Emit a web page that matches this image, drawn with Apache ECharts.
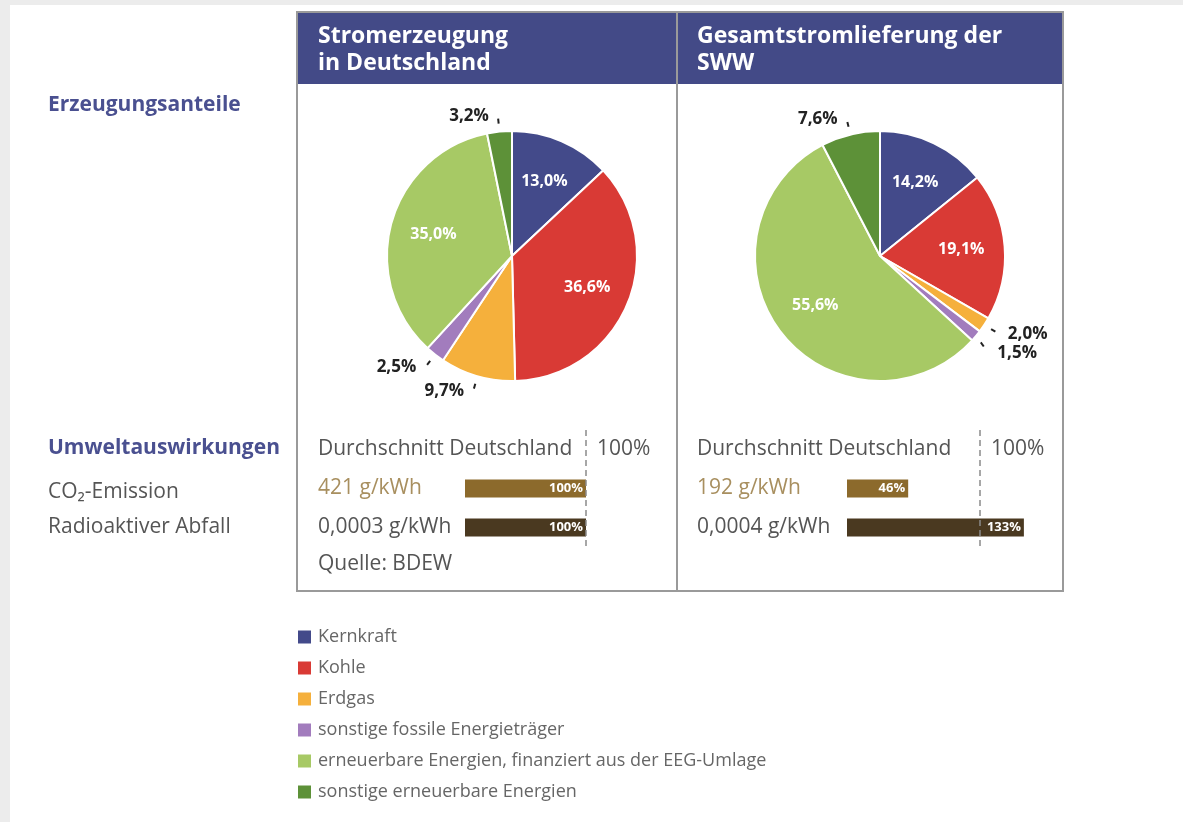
<!DOCTYPE html>
<html><head><meta charset="utf-8">
<script src="https://cdn.jsdelivr.net/npm/echarts@6/dist/echarts.min.js"></script>
<style>html,body{margin:0;padding:0;background:#fff}#c{width:1183px;height:822px}</style>
</head><body><div id="c"></div>
<script>
// ---------- data ----------
const categories = ['Kernkraft', 'Kohle', 'Erdgas', 'sonstige fossile Energieträger',
  'erneuerbare Energien, finanziert aus der EEG-Umlage', 'sonstige erneuerbare Energien'];
const sliceColors = ['#434a8a', '#d93a35', '#f5b03c', '#a27cbd', '#a7c965', '#5d9138'];
const shareDeutschland = [13.0, 36.6, 9.7, 2.5, 35.0, 3.2];
const shareSWW = [14.2, 19.1, 2.0, 1.5, 55.6, 7.6];

const rowLabelsDE = ['Durchschnitt Deutschland', '421 g/kWh', '0,0003 g/kWh'];
const rowLabelsSWW = ['Durchschnitt Deutschland', '192 g/kWh', '0,0004 g/kWh'];
const impactPctDE = [100, 100, 100];   // reference, CO2, radioactive waste
const impactPctSWW = [100, 46, 133];
const barColors = ['rgba(0,0,0,0)', '#8c6a2c', '#4a3920'];

const headerDE = 'Stromerzeugung\nin Deutschland';
const headerSWW = 'Gesamtstromlieferung der\nSWW';
const sideLabels = ['Erzeugungsanteile', 'Umweltauswirkungen', 'CO₂-Emission', 'Radioaktiver Abfall'];
const sourceText = 'Quelle: BDEW';

// ---------- helpers ----------
const FONT = "'Open Sans', 'Noto Sans', sans-serif";
const fmtPct = v => v.toFixed(1).replace('.', ',') + '%';
const R = 125;

function pieSeries(values, center) {
  return [{
    type: 'pie', center: center, radius: [0, R], startAngle: 90, silent: true,
    label: { show: false }, labelLine: { show: false },
    itemStyle: { borderColor: '#fff', borderWidth: 2 },
    data: values.map((v, i) => ({ name: categories[i], value: v, itemStyle: { color: sliceColors[i] } }))
  }, {
    type: 'pie', center: center, radius: [32, R], startAngle: 90, silent: true, z: 5,
    itemStyle: { color: 'rgba(0,0,0,0)', borderWidth: 0 },
    data: values.map((v, i) => {
      const outside = v < 10;
      return {
        name: categories[i], value: v,
        label: outside ? {
          show: true, position: 'outside', formatter: p => fmtPct(p.value),
          color: '#222', fontWeight: 'bold', fontSize: 17, fontFamily: FONT, distance: 2
        } : {
          show: true, position: 'inside', formatter: p => fmtPct(p.value),
          color: '#fff', fontWeight: 'bold', fontSize: 16, fontFamily: FONT
        },
        labelLine: {
          show: outside, length: 16, length2: 4,
          lineStyle: { color: '#222', width: 2, type: [0, 8, 5, 100] }
        }
      };
    })
  }];
}

function barParts(gridIndex, labels, values, max) {
  return {
    xAxis: { gridIndex, type: 'value', min: 0, max: max, show: false },
    yAxis: {
      gridIndex, type: 'category', inverse: true, data: labels,
      axisLine: { show: false }, axisTick: { show: false }, splitLine: { show: false },
      axisLabel: {
        align: 'left', margin: gridIndex === 0 ? 147 : 150, fontSize: 21, fontFamily: FONT,
        color: (val, idx) => idx === 1 ? '#a88f5f' : '#555'
      }
    },
    series: {
      type: 'bar', xAxisIndex: gridIndex, yAxisIndex: gridIndex, barWidth: 18, silent: true,
      label: {
        show: true, position: 'insideRight', distance: 3, color: '#fff', fontSize: 13,
        fontWeight: 'bold', fontFamily: FONT, formatter: '{c}%'
      },
      data: values.map((v, i) => i === 0 ? {
        value: v, itemStyle: { color: barColors[0] },
        label: { show: true, position: 'right', distance: 11, color: '#555', fontSize: 21, fontWeight: 'normal', formatter: '{c}%' }
      } : { value: v, itemStyle: { color: barColors[i] } }),
      markLine: {
        silent: true, symbol: 'none', label: { show: false },
        lineStyle: { color: '#8a8a8a', type: [6, 4], width: 1.5 },
        data: [{ xAxis: 100 }]
      }
    }
  };
}

const b0 = barParts(0, rowLabelsDE, impactPctDE, 120);
const b1 = barParts(1, rowLabelsSWW, impactPctSWW, 140);

const option = {
  backgroundColor: '#fff',
  animation: false,
  legend: {
    orient: 'vertical', left: 293, top: 623, itemWidth: 13, itemHeight: 13, itemGap: 13,
    icon: 'rect', selectedMode: false, data: categories,
    itemStyle: { borderWidth: 0 },
    textStyle: { fontSize: 18, color: '#666', fontFamily: FONT, padding: [0, 0, 0, 2] }
  },
  grid: [
    { left: 465, top: 430, width: 145.2, height: 117 },
    { left: 847, top: 430, width: 186.2, height: 117 }
  ],
  xAxis: [b0.xAxis, b1.xAxis],
  yAxis: [b0.yAxis, b1.yAxis],
  series: [
    ...pieSeries(shareDeutschland, [512, 256]),
    ...pieSeries(shareSWW, [880, 256]),
    b0.series, b1.series
  ],
  graphic: [
    { type: 'rect', z: -10, shape: { x: 0, y: 0, width: 1183, height: 5 }, style: { fill: '#ececec' } },
    { type: 'rect', z: -10, shape: { x: 0, y: 0, width: 10, height: 822 }, style: { fill: '#ececec' } },
    { type: 'rect', z: -5, shape: { x: 297, y: 12, width: 766, height: 72 }, style: { fill: '#434a87' } },
    { type: 'rect', z: -4, shape: { x: 297, y: 12, width: 380, height: 579 }, style: { fill: 'none', stroke: '#9a9a9a', lineWidth: 2 } },
    { type: 'rect', z: -4, shape: { x: 677, y: 12, width: 386, height: 579 }, style: { fill: 'none', stroke: '#9a9a9a', lineWidth: 2 } },
    { type: 'text', x: 318, y: 50, style: { text: headerDE, fill: '#fff', font: 'bold 23px ' + FONT, lineHeight: 27, verticalAlign: 'middle' } },
    { type: 'text', x: 697, y: 50, style: { text: headerSWW, fill: '#fff', font: 'bold 23px ' + FONT, lineHeight: 27, verticalAlign: 'middle' } },
    { type: 'text', x: 48, y: 105, style: { text: sideLabels[0], fill: '#4a5090', font: 'bold 21px ' + FONT, verticalAlign: 'middle' } },
    { type: 'text', x: 48, y: 448, style: { text: sideLabels[1], fill: '#4a5090', font: 'bold 21px ' + FONT, verticalAlign: 'middle' } },
    { type: 'text', x: 48, y: 492, style: { text: sideLabels[2], fill: '#555', font: '21px ' + FONT, verticalAlign: 'middle' } },
    { type: 'text', x: 48, y: 527, style: { text: sideLabels[3], fill: '#555', font: '21px ' + FONT, verticalAlign: 'middle' } },
    { type: 'text', x: 318, y: 564, style: { text: sourceText, fill: '#555', font: '21px ' + FONT, verticalAlign: 'middle' } }
  ]
};

const chart = echarts.init(document.getElementById('c'));
chart.setOption(option);
</script>
</body></html>
